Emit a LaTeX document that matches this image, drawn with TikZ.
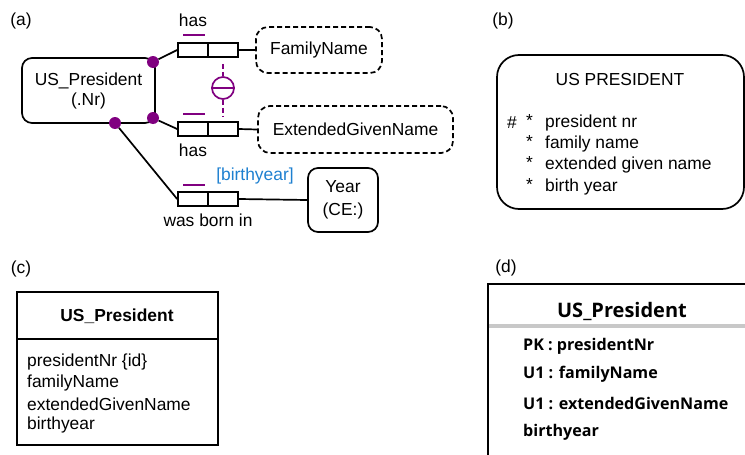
\documentclass[tikz,border=0pt]{standalone}
\usepackage{fontspec}
\setmainfont{Liberation Sans}
\newfontfamily\dfont{Open Sans}
\definecolor{purp}{RGB}{128,0,128}
\definecolor{roleblue}{RGB}{30,128,208}
\definecolor{sepgray}{RGB}{200,200,200}
\begin{document}
\begin{tikzpicture}[x=1pt,y=-1pt,
  every node/.style={font=\fontsize{17.4}{20}\selectfont, inner sep=0pt},
  ln/.style={line width=1.7pt},
  ent/.style={draw, line width=1.7pt, rounded corners=10pt, align=center},
  vt/.style={draw, dash pattern=on 5pt off 3pt, line width=1.7pt, rounded corners=12pt},
  cell/.style={draw, line width=1.7pt, minimum width=30pt, minimum height=14pt},
  dotnode/.style={circle, fill=purp, minimum size=12pt},
  ubar/.style={draw=purp, line width=2pt},
  dfontsty/.style={font=\dfont\bfseries\fontsize{16.1}{19}\selectfont, anchor=west}
]
\useasboundingbox (0,0) rectangle (745,455);
\clip (0,0) rectangle (745,455);

% ---------- (a) ----------
\node (la) at (21,21) {(a)};
\node[ent, minimum width=133pt, minimum height=65pt] (pres) at (88.5,90.5) {US\_President\\(.Nr)};

\node[dotnode] (d1) at (153,62) {};
\node[dotnode] (d2) at (153,118) {};
\node[dotnode] (d3) at (115,123) {};

\node[cell] (r1a) at (193,50) {};
\node[cell] (r1b) at (223,50) {};
\node[cell] (r2a) at (193,129) {};
\node[cell] (r2b) at (223,129) {};
\node[cell] (r3a) at (193,199) {};
\node[cell] (r3b) at (223,199) {};

\draw[ubar] (183,35) -- (205,35);
\draw[ubar] (183,114) -- (205,114);
\draw[ubar] (183,185) -- (205,185);

\node (has1) at (193,20) {has};
\node (has2) at (193,150) {has};
\node (born) at (208,220) {was born in};
\node[text=roleblue] (rn) at (255,176) {[birthyear]};

\draw[ln] (d1) -- (r1a.west);
\draw[ln] (d2) -- (r2a.west);
\draw[ln] (d3) -- (r3a.west);

\node[circle, draw=purp, line width=1.7pt, minimum size=22pt] (uc) at (223,88) {};
\draw[draw=purp, line width=1.7pt] (uc.west) -- (uc.east);
\draw[draw=purp, line width=1.7pt, dash pattern=on 5pt off 3pt, shorten <=6pt] (r1b.south) -- (uc.north);
\draw[draw=purp, line width=1.7pt, dash pattern=on 5pt off 3pt, shorten >=5pt] (uc.south) -- (r2b.north);

\node[vt, minimum width=126pt, minimum height=46pt] (fam) at (319,50) {FamilyName};
\node[vt, minimum width=195pt, minimum height=47pt] (egn) at (355.5,129.5) {ExtendedGivenName};
\node[ent, minimum width=70pt, minimum height=64pt] (year) at (343,200) {Year\\[3pt](CE:)};

\draw[ln] (r1b.east) -- (fam.west);
\draw[ln] (r2b.east) -- (egn.west);
\draw[ln] (r3b.east) -- (year.west);

% ---------- (b) ----------
\node (lb) at (503,21) {(b)};
\node[draw, line width=1.7pt, rounded corners=22pt, minimum width=247pt, minimum height=154pt] (bbox) at (620.5,132) {};
\node (btitle) at (620,80) {US PRESIDENT};
\node[anchor=west] (bh) at (507,123) {\#};
\node[anchor=west] (bs1) at (526,121) {*};
\node[anchor=west] (bs2) at (526,142) {*};
\node[anchor=west] (bs3) at (526,163) {*};
\node[anchor=west] (bs4) at (526,185) {*};
\node[anchor=west] (bt1) at (545,123) {president nr};
\node[anchor=west] (bt2) at (545,144) {family name};
\node[anchor=west] (bt3) at (545,165) {extended given name};
\node[anchor=west] (bt4) at (545,187) {birth year};

% ---------- (c) ----------
\node (lc) at (21,269) {(c)};
\node[draw, line width=1.8pt, minimum width=201pt, minimum height=153pt] (cbox) at (117.5,368.5) {};
\draw[line width=1.5pt] (cbox.west |- 0,339) -- (cbox.east |- 0,339);
\node[font=\bfseries\fontsize{17.4}{20}\selectfont] (ctitle) at (117,316) {US\_President};
\node[anchor=west] (c1) at (27,362) {presidentNr \{id\}};
\node[anchor=west] (c2) at (27,383) {familyName};
\node[anchor=west] (c3) at (27,404) {extendedGivenName};
\node[anchor=west] (c4) at (27,425) {birthyear};

% ---------- (d) ----------
\node (ld) at (506,268) {(d)};
\node[draw, line width=2pt, minimum width=300pt, minimum height=220pt, anchor=north west] (dbox) at (487,283) {};
\draw[sepgray, line width=4pt] (489,326) -- (745,326);
\node[font=\dfont\bfseries\fontsize{20}{22}\selectfont] (dtitle) at (622,311) {US\_President};
\node[dfontsty] (d1t) at (523,346) {PK : presidentNr};
\node[dfontsty] (d2t) at (523,374) {U1 : familyName};
\node[dfontsty] (d3t) at (523,403) {U1 : extendedGivenName};
\node[dfontsty] (d4t) at (523,432) {birthyear};
\end{tikzpicture}
\end{document}
